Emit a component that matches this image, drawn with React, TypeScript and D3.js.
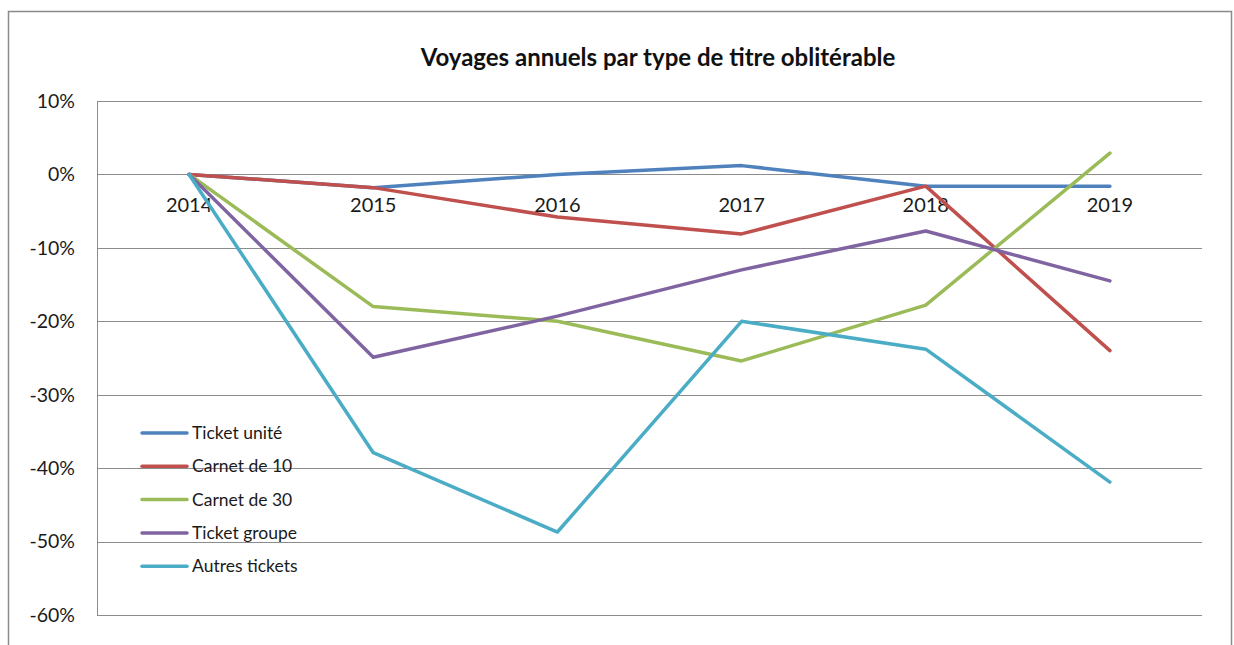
import React, { useRef, useEffect } from "react";
import * as d3 from "d3";

const years = ["2014", "2015", "2016", "2017", "2018", "2019"];
const seriesNames = ["Ticket unité", "Carnet de 10", "Carnet de 30", "Ticket groupe", "Autres tickets"];
const seriesColours = ["#4F81BD", "#C0504D", "#9BBB59", "#8064A2", "#4BACC6"];

const ticketUnite = [0, -1.8, 0, 1.2, -1.6, -1.6];
const carnet10 = [0, -1.8, -5.8, -8.1, -1.6, -24.0];
const carnet30 = [0, -18.0, -20.0, -25.4, -17.8, 2.9];
const ticketGroupe = [0, -24.9, -19.3, -13.0, -7.7, -14.5];
const autresTickets = [0, -37.9, -48.7, -20.0, -23.8, -41.9];

const yTicks = [10, 0, -10, -20, -30, -40, -50, -60];

const App = () => {
    const svgRef = useRef<SVGSVGElement>(null);

    useEffect(() => {
        if (!svgRef.current) return;
        const width = 1234;
        const height = 645;
        const font = "Lato, 'Open Sans', sans-serif";
        const plot = { left: 97, right: 1202, top: 101, bottom: 615 };
        const allSeries = [ticketUnite, carnet10, carnet30, ticketGroupe, autresTickets];

        const svg = d3.select(svgRef.current);
        svg.selectAll("*").remove();
        svg.attr("width", width).attr("height", height);

        svg.append("rect")
            .attr("x", 8.5)
            .attr("y", 11.5)
            .attr("width", 1223)
            .attr("height", 700)
            .attr("fill", "white")
            .attr("stroke", "#8a8a8a")
            .attr("stroke-width", 1.5);

        const x = d3.scaleBand().domain(years).range([plot.left, plot.right]);
        const y = d3.scaleLinear().domain([-60, 10]).range([plot.bottom, plot.top]);

        // gridlines
        svg.append("g")
            .selectAll("line")
            .data(yTicks)
            .enter().append("line")
            .attr("x1", plot.left)
            .attr("x2", plot.right)
            .attr("y1", d => Math.round(y(d)) + 0.5)
            .attr("y2", d => Math.round(y(d)) + 0.5)
            .attr("stroke", "#8c8c8c")
            .attr("stroke-width", 1);

        svg.append("line")
            .attr("x1", plot.left + 0.5)
            .attr("x2", plot.left + 0.5)
            .attr("y1", plot.top)
            .attr("y2", plot.bottom)
            .attr("stroke", "#8c8c8c");

        svg.append("g")
            .selectAll("text")
            .data(yTicks)
            .enter().append("text")
            .attr("x", 75)
            .attr("y", d => y(d))
            .attr("dy", "0.35em")
            .attr("text-anchor", "end")
            .style("font-family", font)
            .style("font-size", "19.5px")
            .style("fill", "#1a1a1a")
            .text(d => `${d}%`);

        svg.append("g")
            .selectAll("text")
            .data(years)
            .enter().append("text")
            .attr("x", d => (x(d) as number) + x.bandwidth() / 2)
            .attr("y", y(0) + 38)
            .attr("text-anchor", "middle")
            .style("font-family", font)
            .style("font-size", "20px")
            .style("fill", "#1a1a1a")
            .text(d => d);

        const line = d3.line<number>()
            .x((d, i) => (x(years[i]) as number) + x.bandwidth() / 2)
            .y(d => y(d));

        svg.append("g")
            .selectAll("path")
            .data(allSeries)
            .enter().append("path")
            .attr("fill", "none")
            .attr("stroke", (d, i) => seriesColours[i])
            .attr("stroke-width", 3.5)
            .attr("stroke-linejoin", "round")
            .attr("stroke-linecap", "round")
            .attr("d", d => line(d));

        const legend = svg.selectAll(".legend")
            .data(seriesNames)
            .enter().append("g")
            .attr("class", "legend")
            .attr("transform", (d, i) => `translate(0,${433 + i * 33.3})`);

        legend.append("line")
            .attr("x1", 142)
            .attr("x2", 187)
            .attr("y1", 0)
            .attr("y2", 0)
            .attr("stroke", (d, i) => seriesColours[i])
            .attr("stroke-width", 3.5)
            .attr("stroke-linecap", "round");

        legend.append("text")
            .attr("x", 192)
            .attr("y", 0)
            .attr("dy", "0.35em")
            .style("font-family", font)
            .style("font-size", "17.5px")
            .style("fill", "#1a1a1a")
            .text(d => d);

        svg.append("text")
            .attr("x", 658)
            .attr("y", 66)
            .attr("text-anchor", "middle")
            .style("font-family", font)
            .style("font-weight", "bold")
            .style("font-size", "24px")
            .style("fill", "#111")
            .text("Voyages annuels par type de titre oblitérable");
    }, []);

    return (
        <div style={{ position: "absolute", left: 0, top: 0 }}>
            <svg ref={svgRef}></svg>
        </div>
    );
};

export default App;
